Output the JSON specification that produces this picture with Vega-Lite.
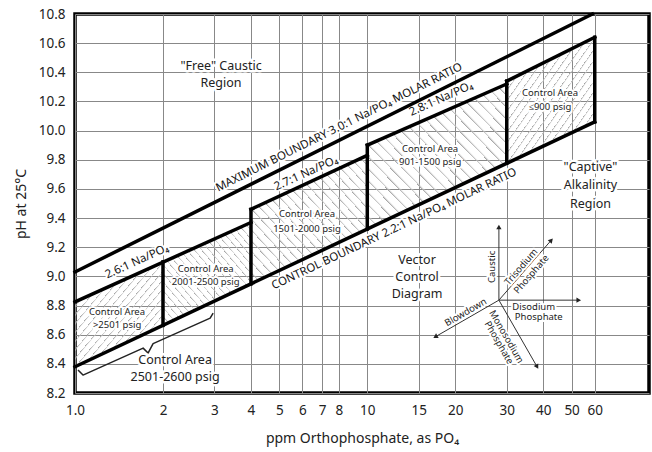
{
"$schema":"https://vega.github.io/schema/vega-lite/v6.json",
"width":574,"height":379,
"autosize":{"type":"none"},
"padding":{"left":75,"top":14,"right":3,"bottom":59},
"background":"white",
"config":{"font":"Noto Sans","view":{"stroke":"#000","strokeWidth":3.5}},
"encoding":{
 "x":{"field":"x","type":"quantitative","title":"ppm Orthophosphate, as PO₄",
  "scale":{"type":"log","domain":[1,92]},
  "axis":{"values":[1,2,3,4,5,6,7,8,10,15,20,30,40,50,60],
   "labelExpr":"datum.value == 1 ? '1.0' : format(datum.value, 'd')",
   "ticks":false,"tickSize":0,"domain":false,"grid":true,"gridColor":"#888","gridWidth":1,
   "labelOverlap":false,"labelFlush":false,"labelPadding":10,"titlePadding":15,
   "labelFontSize":13.5,"titleFontSize":14,"titleFontWeight":"normal","labelColor":"#222","titleColor":"#222"}},
 "y":{"field":"pH","type":"quantitative","title":"pH at 25°C",
  "scale":{"domain":[8.2,10.8],"nice":false,"zero":false},
  "axis":{"values":[8.2,8.4,8.6,8.8,9.0,9.2,9.4,9.6,9.8,10.0,10.2,10.4,10.6,10.8],"format":".1f",
   "ticks":false,"tickSize":0,"domain":false,"grid":true,"gridColor":"#888","gridWidth":1,
   "labelOverlap":false,"labelFlush":false,"labelPadding":10,"titlePadding":10,
   "labelFontSize":13.5,"titleFontSize":14,"titleFontWeight":"normal","labelColor":"#222","titleColor":"#222"}}
},
"layer":[
 {"data":{"values":[
  {"a":"a1","x":1,"pH":8.825,"lo":8.38},{"a":"a1","x":2,"pH":9.10,"lo":8.664},
  {"a":"a5","x":30,"pH":10.34,"lo":9.776},{"a":"a5","x":60,"pH":10.64,"lo":10.06}]},
  "mark":{"type":"area","fill":{"gradient":"linear","x1":0,"y1":0,"x2":1,"y2":1,"stops":[
   {"offset":0,"color":"#a0a0a0"},{"offset":0.012,"color":"rgba(255,255,255,0)"},{"offset":0.04167,"color":"rgba(255,255,255,0)"},
   {"offset":0.04167,"color":"#a0a0a0"},{"offset":0.05367,"color":"rgba(255,255,255,0)"},{"offset":0.08333,"color":"rgba(255,255,255,0)"},
   {"offset":0.08333,"color":"#a0a0a0"},{"offset":0.09533,"color":"rgba(255,255,255,0)"},{"offset":0.125,"color":"rgba(255,255,255,0)"},
   {"offset":0.125,"color":"#a0a0a0"},{"offset":0.137,"color":"rgba(255,255,255,0)"},{"offset":0.16667,"color":"rgba(255,255,255,0)"},
   {"offset":0.16667,"color":"#a0a0a0"},{"offset":0.17867,"color":"rgba(255,255,255,0)"},{"offset":0.20833,"color":"rgba(255,255,255,0)"},
   {"offset":0.20833,"color":"#a0a0a0"},{"offset":0.22033,"color":"rgba(255,255,255,0)"},{"offset":0.25,"color":"rgba(255,255,255,0)"},
   {"offset":0.25,"color":"#a0a0a0"},{"offset":0.262,"color":"rgba(255,255,255,0)"},{"offset":0.29167,"color":"rgba(255,255,255,0)"},
   {"offset":0.29167,"color":"#a0a0a0"},{"offset":0.30367,"color":"rgba(255,255,255,0)"},{"offset":0.33333,"color":"rgba(255,255,255,0)"},
   {"offset":0.33333,"color":"#a0a0a0"},{"offset":0.34533,"color":"rgba(255,255,255,0)"},{"offset":0.375,"color":"rgba(255,255,255,0)"},
   {"offset":0.375,"color":"#a0a0a0"},{"offset":0.387,"color":"rgba(255,255,255,0)"},{"offset":0.41667,"color":"rgba(255,255,255,0)"},
   {"offset":0.41667,"color":"#a0a0a0"},{"offset":0.42867,"color":"rgba(255,255,255,0)"},{"offset":0.45833,"color":"rgba(255,255,255,0)"},
   {"offset":0.45833,"color":"#a0a0a0"},{"offset":0.47033,"color":"rgba(255,255,255,0)"},{"offset":0.5,"color":"rgba(255,255,255,0)"},
   {"offset":0.5,"color":"#a0a0a0"},{"offset":0.512,"color":"rgba(255,255,255,0)"},{"offset":0.54167,"color":"rgba(255,255,255,0)"},
   {"offset":0.54167,"color":"#a0a0a0"},{"offset":0.55367,"color":"rgba(255,255,255,0)"},{"offset":0.58333,"color":"rgba(255,255,255,0)"},
   {"offset":0.58333,"color":"#a0a0a0"},{"offset":0.59533,"color":"rgba(255,255,255,0)"},{"offset":0.625,"color":"rgba(255,255,255,0)"},
   {"offset":0.625,"color":"#a0a0a0"},{"offset":0.637,"color":"rgba(255,255,255,0)"},{"offset":0.66667,"color":"rgba(255,255,255,0)"},
   {"offset":0.66667,"color":"#a0a0a0"},{"offset":0.67867,"color":"rgba(255,255,255,0)"},{"offset":0.70833,"color":"rgba(255,255,255,0)"},
   {"offset":0.70833,"color":"#a0a0a0"},{"offset":0.72033,"color":"rgba(255,255,255,0)"},{"offset":0.75,"color":"rgba(255,255,255,0)"},
   {"offset":0.75,"color":"#a0a0a0"},{"offset":0.762,"color":"rgba(255,255,255,0)"},{"offset":0.79167,"color":"rgba(255,255,255,0)"},
   {"offset":0.79167,"color":"#a0a0a0"},{"offset":0.80367,"color":"rgba(255,255,255,0)"},{"offset":0.83333,"color":"rgba(255,255,255,0)"},
   {"offset":0.83333,"color":"#a0a0a0"},{"offset":0.84533,"color":"rgba(255,255,255,0)"},{"offset":0.875,"color":"rgba(255,255,255,0)"},
   {"offset":0.875,"color":"#a0a0a0"},{"offset":0.887,"color":"rgba(255,255,255,0)"},{"offset":0.91667,"color":"rgba(255,255,255,0)"},
   {"offset":0.91667,"color":"#a0a0a0"},{"offset":0.92867,"color":"rgba(255,255,255,0)"},{"offset":0.95833,"color":"rgba(255,255,255,0)"},
   {"offset":0.95833,"color":"#a0a0a0"},{"offset":0.97033,"color":"rgba(255,255,255,0)"},{"offset":1,"color":"rgba(255,255,255,0)"}]}},
  "encoding":{"y2":{"field":"lo"},"detail":{"field":"a","type":"nominal"}}},
 {"data":{"values":[
  {"a":"a2","x":2,"pH":9.10,"lo":8.664},{"a":"a2","x":4,"pH":9.37,"lo":8.949},
  {"a":"a3","x":4,"pH":9.46,"lo":8.949},{"a":"a3","x":10,"pH":9.83,"lo":9.325},
  {"a":"a4","x":10,"pH":9.90,"lo":9.325},{"a":"a4","x":30,"pH":10.32,"lo":9.776}]},
  "mark":{"type":"area","fill":{"gradient":"linear","x1":0,"y1":1,"x2":1,"y2":0,"stops":[
   {"offset":0,"color":"#a0a0a0"},{"offset":0.012,"color":"rgba(255,255,255,0)"},{"offset":0.04167,"color":"rgba(255,255,255,0)"},
   {"offset":0.04167,"color":"#a0a0a0"},{"offset":0.05367,"color":"rgba(255,255,255,0)"},{"offset":0.08333,"color":"rgba(255,255,255,0)"},
   {"offset":0.08333,"color":"#a0a0a0"},{"offset":0.09533,"color":"rgba(255,255,255,0)"},{"offset":0.125,"color":"rgba(255,255,255,0)"},
   {"offset":0.125,"color":"#a0a0a0"},{"offset":0.137,"color":"rgba(255,255,255,0)"},{"offset":0.16667,"color":"rgba(255,255,255,0)"},
   {"offset":0.16667,"color":"#a0a0a0"},{"offset":0.17867,"color":"rgba(255,255,255,0)"},{"offset":0.20833,"color":"rgba(255,255,255,0)"},
   {"offset":0.20833,"color":"#a0a0a0"},{"offset":0.22033,"color":"rgba(255,255,255,0)"},{"offset":0.25,"color":"rgba(255,255,255,0)"},
   {"offset":0.25,"color":"#a0a0a0"},{"offset":0.262,"color":"rgba(255,255,255,0)"},{"offset":0.29167,"color":"rgba(255,255,255,0)"},
   {"offset":0.29167,"color":"#a0a0a0"},{"offset":0.30367,"color":"rgba(255,255,255,0)"},{"offset":0.33333,"color":"rgba(255,255,255,0)"},
   {"offset":0.33333,"color":"#a0a0a0"},{"offset":0.34533,"color":"rgba(255,255,255,0)"},{"offset":0.375,"color":"rgba(255,255,255,0)"},
   {"offset":0.375,"color":"#a0a0a0"},{"offset":0.387,"color":"rgba(255,255,255,0)"},{"offset":0.41667,"color":"rgba(255,255,255,0)"},
   {"offset":0.41667,"color":"#a0a0a0"},{"offset":0.42867,"color":"rgba(255,255,255,0)"},{"offset":0.45833,"color":"rgba(255,255,255,0)"},
   {"offset":0.45833,"color":"#a0a0a0"},{"offset":0.47033,"color":"rgba(255,255,255,0)"},{"offset":0.5,"color":"rgba(255,255,255,0)"},
   {"offset":0.5,"color":"#a0a0a0"},{"offset":0.512,"color":"rgba(255,255,255,0)"},{"offset":0.54167,"color":"rgba(255,255,255,0)"},
   {"offset":0.54167,"color":"#a0a0a0"},{"offset":0.55367,"color":"rgba(255,255,255,0)"},{"offset":0.58333,"color":"rgba(255,255,255,0)"},
   {"offset":0.58333,"color":"#a0a0a0"},{"offset":0.59533,"color":"rgba(255,255,255,0)"},{"offset":0.625,"color":"rgba(255,255,255,0)"},
   {"offset":0.625,"color":"#a0a0a0"},{"offset":0.637,"color":"rgba(255,255,255,0)"},{"offset":0.66667,"color":"rgba(255,255,255,0)"},
   {"offset":0.66667,"color":"#a0a0a0"},{"offset":0.67867,"color":"rgba(255,255,255,0)"},{"offset":0.70833,"color":"rgba(255,255,255,0)"},
   {"offset":0.70833,"color":"#a0a0a0"},{"offset":0.72033,"color":"rgba(255,255,255,0)"},{"offset":0.75,"color":"rgba(255,255,255,0)"},
   {"offset":0.75,"color":"#a0a0a0"},{"offset":0.762,"color":"rgba(255,255,255,0)"},{"offset":0.79167,"color":"rgba(255,255,255,0)"},
   {"offset":0.79167,"color":"#a0a0a0"},{"offset":0.80367,"color":"rgba(255,255,255,0)"},{"offset":0.83333,"color":"rgba(255,255,255,0)"},
   {"offset":0.83333,"color":"#a0a0a0"},{"offset":0.84533,"color":"rgba(255,255,255,0)"},{"offset":0.875,"color":"rgba(255,255,255,0)"},
   {"offset":0.875,"color":"#a0a0a0"},{"offset":0.887,"color":"rgba(255,255,255,0)"},{"offset":0.91667,"color":"rgba(255,255,255,0)"},
   {"offset":0.91667,"color":"#a0a0a0"},{"offset":0.92867,"color":"rgba(255,255,255,0)"},{"offset":0.95833,"color":"rgba(255,255,255,0)"},
   {"offset":0.95833,"color":"#a0a0a0"},{"offset":0.97033,"color":"rgba(255,255,255,0)"},{"offset":1,"color":"rgba(255,255,255,0)"}]}},
  "encoding":{"y2":{"field":"lo"},"detail":{"field":"a","type":"nominal"}}},
 {"data":{"values":[
  {"x":28.2,"pH":8.837,"x2":28.2,"pH2":9.339},
  {"x":28.2,"pH":8.837,"x2":42.6,"pH2":9.248},
  {"x":28.2,"pH":8.837,"x2":52.9,"pH2":8.837},
  {"x":28.2,"pH":8.837,"x2":38.1,"pH2":8.38},
  {"x":28.2,"pH":8.837,"x2":17.1,"pH2":8.586}]},
  "mark":{"type":"rule","stroke":"#333","strokeWidth":1},
  "encoding":{"x2":{"field":"x2"},"y2":{"field":"pH2"}}},
 {"data":{"values":[{"x":28.2,"pH":9.339}]},"mark":{"type":"point","shape":"triangle-up","filled":true,"color":"#222","opacity":1,"size":28,"angle":0}},
 {"data":{"values":[{"x":42.6,"pH":9.248}]},"mark":{"type":"point","shape":"triangle-up","filled":true,"color":"#222","opacity":1,"size":28,"angle":41}},
 {"data":{"values":[{"x":52.9,"pH":8.837}]},"mark":{"type":"point","shape":"triangle-up","filled":true,"color":"#222","opacity":1,"size":28,"angle":90}},
 {"data":{"values":[{"x":38.1,"pH":8.38}]},"mark":{"type":"point","shape":"triangle-up","filled":true,"color":"#222","opacity":1,"size":28,"angle":150}},
 {"data":{"values":[{"x":17.1,"pH":8.586}]},"mark":{"type":"point","shape":"triangle-up","filled":true,"color":"#222","opacity":1,"size":28,"angle":240}},
 {"data":{"values":[
  {"i":1,"x":1.024,"pH":8.358},{"i":2,"x":1.065,"pH":8.323},{"i":3,"x":1.71,"pH":8.508},
  {"i":4,"x":1.778,"pH":8.474},{"i":5,"x":1.85,"pH":8.539},{"i":6,"x":2.9,"pH":8.714},{"i":7,"x":2.969,"pH":8.748}]},
  "mark":{"type":"line","stroke":"#222","strokeWidth":1.5,"strokeJoin":"round"},
  "encoding":{"order":{"field":"i","type":"quantitative"}}},
 {"data":{"values":[
  {"x":3.16,"pH":10.44,"t":"\"Free\" Caustic"},{"x":3.16,"pH":10.33,"t":"Region"},
  {"x":58,"pH":9.748,"t":"\"Captive\""},{"x":58,"pH":9.625,"t":"Alkalinity"},{"x":58,"pH":9.50,"t":"Region"},
  {"x":14.8,"pH":9.111,"t":"Vector"},{"x":14.8,"pH":8.995,"t":"Control"},{"x":14.8,"pH":8.878,"t":"Diagram"},
  {"x":2.2,"pH":8.426,"t":"Control Area"},{"x":2.2,"pH":8.312,"t":"2501-2600 psig"}]},
  "encoding":{"text":{"field":"t"}},
  "layer":[
   {"mark":{"type":"text","fontSize":12.5,"fill":"white","stroke":"white","strokeWidth":5,"strokeJoin":"round"}},
   {"mark":{"type":"text","fontSize":12.5,"fill":"#222"}}]},
 {"data":{"values":[
  {"x":1.393,"pH":8.757,"t":"Control Area"},{"x":1.393,"pH":8.666,"t":">2501 psig"},
  {"x":2.8,"pH":9.054,"t":"Control Area"},{"x":2.8,"pH":8.962,"t":"2001-2500 psig"},
  {"x":6.22,"pH":9.426,"t":"Control Area"},{"x":6.22,"pH":9.328,"t":"1501-2000 psig"},
  {"x":16.4,"pH":9.876,"t":"Control Area"},{"x":16.4,"pH":9.782,"t":"901-1500 psig"},
  {"x":42.2,"pH":10.257,"t":"Control Area"},{"x":42.2,"pH":10.161,"t":"≤900 psig"},
  {"x":37.1,"pH":8.787,"t":"Disodium"},{"x":38.6,"pH":8.718,"t":"Phosphate"}]},
  "encoding":{"text":{"field":"t"}},
  "layer":[
   {"mark":{"type":"text","fontSize":9.5,"fill":"white","stroke":"white","strokeWidth":4,"strokeJoin":"round"}},
   {"mark":{"type":"text","fontSize":9.5,"fill":"#222"}}]},
 {"data":{"values":[{"x":8.02,"pH":10.02,"t":"MAXIMUM BOUNDARY  3.0:1 Na/PO₄ MOLAR RATIO"}]},
  "encoding":{"text":{"field":"t"}},
  "layer":[
   {"mark":{"type":"text","fontSize":11.5,"angle":-26.6,"fill":"white","stroke":"white","strokeWidth":4,"strokeJoin":"round"}},
   {"mark":{"type":"text","fontSize":11.5,"angle":-26.6,"fill":"#111"}}]},
 {"data":{"values":[{"x":12.37,"pH":9.323,"t":"CONTROL BOUNDARY  2.2:1 Na/PO₄ MOLAR RATIO"}]},
  "encoding":{"text":{"field":"t"}},
  "layer":[
   {"mark":{"type":"text","fontSize":11.5,"angle":-25.3,"fill":"white","stroke":"white","strokeWidth":4,"strokeJoin":"round"}},
   {"mark":{"type":"text","fontSize":11.5,"angle":-25.3,"fill":"#111"}}]},
 {"data":{"values":[
  {"x":1.63,"pH":9.1,"t":"2.6:1 Na/PO₄"},{"x":6.18,"pH":9.705,"t":"2.7:1 Na/PO₄"},{"x":17.9,"pH":10.215,"t":"2.8:1 Na/PO₄"}]},
  "encoding":{"text":{"field":"t"}},
  "layer":[
   {"mark":{"type":"text","fontSize":11.5,"angle":-24.3,"fill":"white","stroke":"white","strokeWidth":4,"strokeJoin":"round"}},
   {"mark":{"type":"text","fontSize":11.5,"angle":-24.3,"fill":"#111"}}]},
 {"data":{"values":[{"x":26.7,"pH":9.065,"t":"Caustic"}]},
  "encoding":{"text":{"field":"t"}},
  "layer":[
   {"mark":{"type":"text","fontSize":9.5,"angle":-90,"fill":"white","stroke":"white","strokeWidth":4,"strokeJoin":"round"}},
   {"mark":{"type":"text","fontSize":9.5,"angle":-90,"fill":"#222"}}]},
 {"data":{"values":[{"x":33.6,"pH":9.065,"t":"Trisodium"},{"x":36.4,"pH":9.015,"t":"Phosphate"}]},
  "encoding":{"text":{"field":"t"}},
  "layer":[
   {"mark":{"type":"text","fontSize":9.5,"angle":-49,"fill":"white","stroke":"white","strokeWidth":4,"strokeJoin":"round"}},
   {"mark":{"type":"text","fontSize":9.5,"angle":-49,"fill":"#222"}}]},
 {"data":{"values":[{"x":29.9,"pH":8.586,"t":"Monosodium"},{"x":28.2,"pH":8.545,"t":"Phosphate"}]},
  "encoding":{"text":{"field":"t"}},
  "layer":[
   {"mark":{"type":"text","fontSize":9.5,"angle":60,"fill":"white","stroke":"white","strokeWidth":4,"strokeJoin":"round"}},
   {"mark":{"type":"text","fontSize":9.5,"angle":60,"fill":"#222"}}]},
 {"data":{"values":[{"x":21.7,"pH":8.753,"t":"Blowdown"}]},
  "encoding":{"text":{"field":"t"}},
  "layer":[
   {"mark":{"type":"text","fontSize":9.5,"angle":-30,"fill":"white","stroke":"white","strokeWidth":4,"strokeJoin":"round"}},
   {"mark":{"type":"text","fontSize":9.5,"angle":-30,"fill":"#222"}}]},
 {"data":{"values":[
  {"x":1,"pH":9.03,"x2":58.9,"pH2":10.8},
  {"x":1,"pH":8.825,"x2":4,"pH2":9.37},
  {"x":2,"pH":8.664,"x2":2,"pH2":9.10},
  {"x":4,"pH":8.949,"x2":4,"pH2":9.46},
  {"x":4,"pH":9.46,"x2":10,"pH2":9.83},
  {"x":10,"pH":9.325,"x2":10,"pH2":9.90},
  {"x":10,"pH":9.90,"x2":30,"pH2":10.32},
  {"x":30,"pH":9.776,"x2":30,"pH2":10.34},
  {"x":30,"pH":10.34,"x2":60,"pH2":10.64},
  {"x":60,"pH":10.06,"x2":60,"pH2":10.64},
  {"x":1,"pH":8.38,"x2":60,"pH2":10.06}]},
  "mark":{"type":"rule","stroke":"#000","strokeWidth":3.5,"strokeCap":"square"},
  "encoding":{"x2":{"field":"x2"},"y2":{"field":"pH2"}}}
]
}
